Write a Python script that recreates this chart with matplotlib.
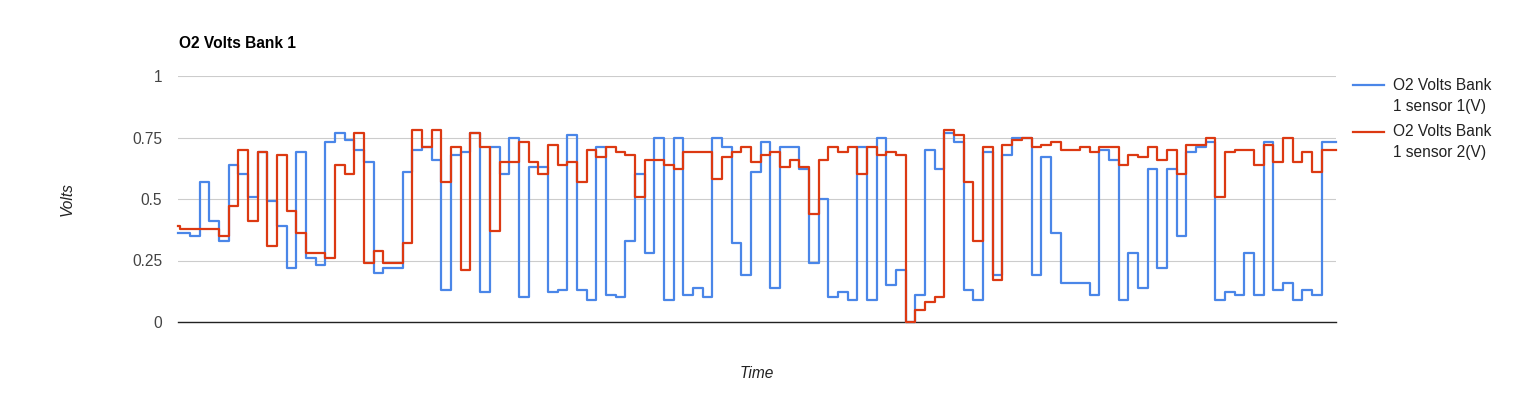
import numpy as np
import matplotlib.pyplot as plt
from matplotlib.lines import Line2D

# O2 sensor readings (V), one value per logged sample
sensor1 = [0.36, 0.35, 0.57, 0.41, 0.33, 0.64, 0.60, 0.51, 0.69, 0.49,
           0.39, 0.22, 0.69, 0.26, 0.23, 0.73, 0.77, 0.74, 0.70, 0.65,
           0.20, 0.22, 0.22, 0.61, 0.70, 0.71, 0.66, 0.13, 0.68, 0.69,
           0.77, 0.12, 0.71, 0.60, 0.75, 0.10, 0.63, 0.63, 0.12, 0.13,
           0.76, 0.13, 0.09, 0.71, 0.11, 0.10, 0.33, 0.60, 0.28, 0.75,
           0.09, 0.75, 0.11, 0.14, 0.10, 0.75, 0.71, 0.32, 0.19, 0.61,
           0.73, 0.14, 0.71, 0.71, 0.62, 0.24, 0.50, 0.10, 0.12, 0.09,
           0.71, 0.09, 0.75, 0.15, 0.21, 0.00, 0.11, 0.70, 0.62, 0.77,
           0.73, 0.13, 0.09, 0.69, 0.19, 0.68, 0.75, 0.75, 0.19, 0.67,
           0.36, 0.16, 0.16, 0.16, 0.11, 0.70, 0.66, 0.09, 0.28, 0.14,
           0.62, 0.22, 0.62, 0.35, 0.69, 0.71, 0.73, 0.09, 0.12, 0.11,
           0.28, 0.11, 0.73, 0.13, 0.16, 0.09, 0.13, 0.11, 0.73]

sensor2 = [0.38, 0.38, 0.38, 0.38, 0.35, 0.47, 0.70, 0.41, 0.69, 0.31,
           0.68, 0.45, 0.36, 0.28, 0.28, 0.26, 0.64, 0.60, 0.77, 0.24,
           0.29, 0.24, 0.24, 0.32, 0.78, 0.71, 0.78, 0.57, 0.71, 0.21,
           0.77, 0.71, 0.37, 0.65, 0.65, 0.73, 0.65, 0.60, 0.72, 0.64,
           0.65, 0.57, 0.70, 0.67, 0.71, 0.69, 0.68, 0.51, 0.66, 0.66,
           0.64, 0.62, 0.69, 0.69, 0.69, 0.58, 0.67, 0.69, 0.71, 0.65,
           0.68, 0.69, 0.63, 0.66, 0.63, 0.44, 0.66, 0.71, 0.69, 0.71,
           0.60, 0.71, 0.68, 0.69, 0.68, 0.00, 0.05, 0.08, 0.10, 0.78,
           0.76, 0.57, 0.33, 0.71, 0.17, 0.72, 0.74, 0.75, 0.71, 0.72,
           0.73, 0.70, 0.70, 0.71, 0.69, 0.71, 0.71, 0.64, 0.68, 0.67,
           0.71, 0.66, 0.70, 0.60, 0.72, 0.72, 0.75, 0.51, 0.69, 0.70,
           0.70, 0.64, 0.72, 0.65, 0.75, 0.65, 0.69, 0.61, 0.70]

# first reading comes in just before the regular samples
first1, first2 = 0.36, 0.39
t_first = -0.24
t_last = 119.48

labels = ['O2 Volts Bank\n1 sensor 1(V)', 'O2 Volts Bank\n1 sensor 2(V)']
colors = ['#4a86e8', '#dc3912']

n = len(sensor1)
t = np.r_[t_first, np.arange(n), t_last]
s1 = np.r_[first1, sensor1, sensor1[-1]]
s2 = np.r_[first2, sensor2, sensor2[-1]]

plt.rcParams['font.family'] = ['Liberation Sans', 'DejaVu Sans']
fs = 11.2

W, H = 1515, 399
fig = plt.figure(figsize=(W / 100, H / 100), dpi=100)
ax = fig.add_axes([178 / W, 1 - 322 / H, 1158 / W, 246 / H])

ax.step(t, s1, where='post', color=colors[0], lw=1.6, clip_on=False, zorder=3)
ax.step(t, s2, where='post', color=colors[1], lw=1.6, clip_on=False, zorder=4)

ax.set_xlim(t_first, t_last)
ax.set_ylim(0, 1)
ax.set_yticks([0, 0.25, 0.5, 0.75, 1])
ax.set_yticklabels(['0', '0.25', '0.5', '0.75', '1'])
ax.set_xticks([])
ax.tick_params(axis='y', length=0, pad=11.5, labelsize=fs, labelcolor='#444444')
ax.grid(axis='y', color='#cccccc', lw=0.8)
ax.axhline(0, color='#222222', lw=1.0, zorder=2.6, clip_on=False)
for sp in ax.spines.values():
    sp.set_visible(False)

fig.text(179 / W, 1 - 43 / H, 'O2 Volts Bank 1', fontsize=fs, fontweight='bold',
         color='#000000', va='center', ha='left')
fig.text(67 / W, 1 - 199 / H, 'Volts', rotation=90, fontsize=fs, style='italic',
         color='#222222', va='center', ha='center')
fig.text(757 / W, 1 - 373 / H, 'Time', fontsize=fs, style='italic',
         color='#222222', va='center', ha='center')

# legend on the right
for i, (lab, c) in enumerate(zip(labels, colors)):
    y0 = 85 + i * 46.5
    fig.add_artist(Line2D([1353 / W, 1384 / W], [1 - y0 / H, 1 - y0 / H],
                          color=c, lw=1.6, transform=fig.transFigure))
    top, bottom = lab.split('\n')
    fig.text(1393 / W, 1 - y0 / H, top, fontsize=fs, color='#222222', va='center')
    fig.text(1393 / W, 1 - (y0 + 21) / H, bottom, fontsize=fs, color='#222222', va='center')

fig.savefig('out.png', dpi=100)
